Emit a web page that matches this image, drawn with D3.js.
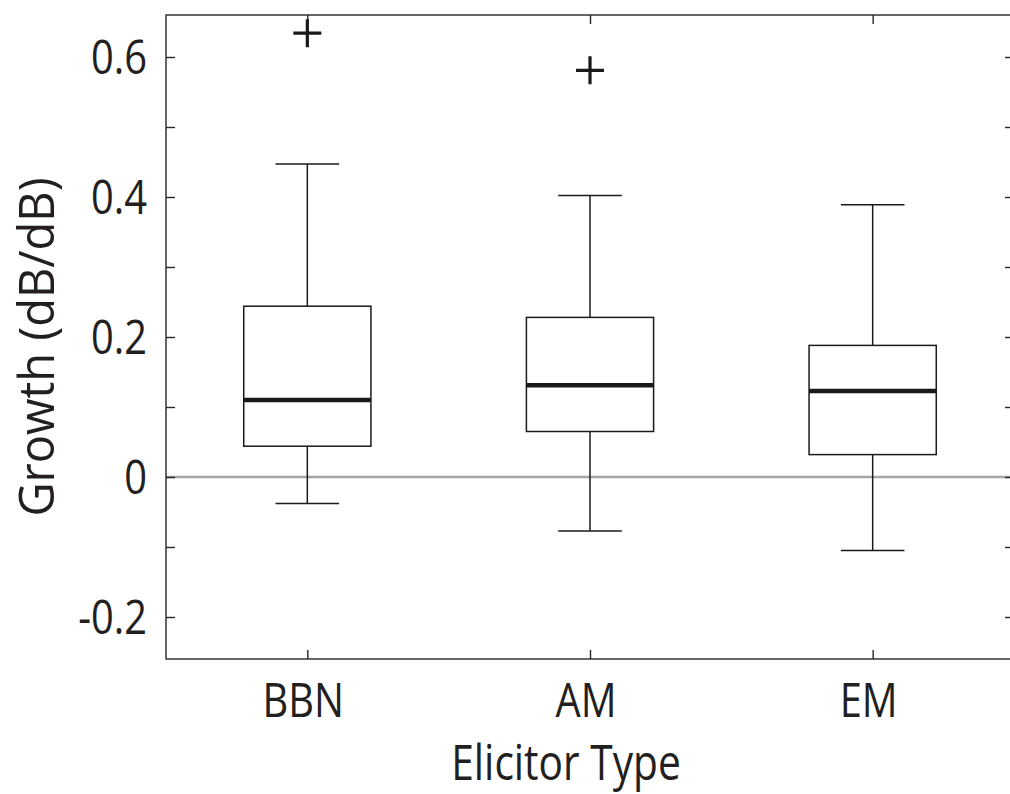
<!DOCTYPE html>
<html>
<head>
<meta charset="utf-8">
<script src="https://cdn.jsdelivr.net/npm/d3@7"></script>
<style>
  html, body { margin: 0; padding: 0; background: #fff; }
  svg { display: block; }
  text { font-family: "Open Sans", sans-serif; fill: #231f20; }
</style>
</head>
<body>
<svg id="chart"></svg>
<script>
const width = 1010;
const height = 794;
const plot = { left: 166, right: 1014, top: 15, bottom: 659 };

// box statistics
const categories = ["BBN", "AM", "EM"];
const upperWhisker = [0.447, 0.402, 0.389];
const q3 = [0.244, 0.228, 0.188];
const medians = [0.110, 0.131, 0.123];
const q1 = [0.044, 0.065, 0.032];
const lowerWhisker = [-0.038, -0.077, -0.105];
const outlierCats = ["BBN", "AM"];
const outlierValues = [0.634, 0.581];

const yTicks = [-0.2, -0.1, 0, 0.1, 0.2, 0.3, 0.4, 0.5, 0.6];
const yTickLabels = ["-0.2", "0", "0.2", "0.4", "0.6"];
const yLabelValues = [-0.2, 0, 0.2, 0.4, 0.6];

const axisColor = "#262626";

let svg = d3.select("#chart")
            .attr("width", width)
            .attr("height", height);

let x = d3.scalePoint()
          .domain(categories)
          .range([plot.left, plot.right])
          .padding(0.5);

let y = d3.scaleLinear()
          .domain([-0.26, 0.66])
          .range([plot.bottom, plot.top]);

const boxW = x.step() * 0.45;
const capW = boxW / 2;

// zero reference line
svg.append("line")
   .attr("x1", plot.left).attr("x2", plot.right)
   .attr("y1", y(0)).attr("y2", y(0))
   .attr("stroke", "#a6a6a6")
   .attr("stroke-width", 2.6);

// axes (ticks point inward, box all around)
const tickLen = 9;
let axes = svg.append("g")
   .attr("fill", "none")
   .attr("stroke", axisColor)
   .attr("stroke-width", 1.4);

let leftAxis = d3.axisLeft(y).tickValues(yTicks).tickSize(-tickLen).tickSizeOuter(0).tickFormat("");
let rightAxis = d3.axisRight(y).tickValues(yTicks).tickSize(-tickLen).tickSizeOuter(0).tickFormat("");
let bottomAxis = d3.axisBottom(x).tickSize(-tickLen).tickSizeOuter(0).tickFormat("");
let topAxis = d3.axisTop(x).tickSize(-tickLen).tickSizeOuter(0).tickFormat("");

[
  [leftAxis, `translate(${plot.left},0)`],
  [rightAxis, `translate(${plot.right},0)`],
  [bottomAxis, `translate(0,${plot.bottom})`],
  [topAxis, `translate(0,${plot.top})`]
].forEach(([ax, tr]) => {
  let g = svg.append("g").attr("transform", tr).call(ax);
  g.selectAll("path, line").attr("stroke", axisColor).attr("stroke-width", 1.4);
  g.select(".domain").attr("d", null);
});

axes.append("rect")
    .attr("x", plot.left).attr("y", plot.top)
    .attr("width", plot.right - plot.left)
    .attr("height", plot.bottom - plot.top);

// boxes
let boxes = svg.append("g")
  .selectAll("g")
  .data(categories)
  .enter()
  .append("g");

// whiskers
boxes.append("line")
  .attr("x1", d => x(d)).attr("x2", d => x(d))
  .attr("y1", (d, i) => y(upperWhisker[i])).attr("y2", (d, i) => y(q3[i]))
  .attr("stroke", "#1a1a1a").attr("stroke-width", 1.5);
boxes.append("line")
  .attr("x1", d => x(d)).attr("x2", d => x(d))
  .attr("y1", (d, i) => y(q1[i])).attr("y2", (d, i) => y(lowerWhisker[i]))
  .attr("stroke", "#1a1a1a").attr("stroke-width", 1.5);
// caps
boxes.append("line")
  .attr("x1", d => x(d) - capW / 2).attr("x2", d => x(d) + capW / 2)
  .attr("y1", (d, i) => y(upperWhisker[i])).attr("y2", (d, i) => y(upperWhisker[i]))
  .attr("stroke", "#1a1a1a").attr("stroke-width", 1.5);
boxes.append("line")
  .attr("x1", d => x(d) - capW / 2).attr("x2", d => x(d) + capW / 2)
  .attr("y1", (d, i) => y(lowerWhisker[i])).attr("y2", (d, i) => y(lowerWhisker[i]))
  .attr("stroke", "#1a1a1a").attr("stroke-width", 1.5);
// box
boxes.append("rect")
  .attr("x", d => x(d) - boxW / 2)
  .attr("y", (d, i) => y(q3[i]))
  .attr("width", boxW)
  .attr("height", (d, i) => y(q1[i]) - y(q3[i]))
  .attr("fill", "#fff")
  .attr("stroke", "#1a1a1a")
  .attr("stroke-width", 1.5);
// median
boxes.append("line")
  .attr("x1", d => x(d) - boxW / 2).attr("x2", d => x(d) + boxW / 2)
  .attr("y1", (d, i) => y(medians[i])).attr("y2", (d, i) => y(medians[i]))
  .attr("stroke", "#1a1a1a").attr("stroke-width", 4.5);

// outliers as plus markers
const plusHalf = 14;
let plus = svg.append("g")
  .selectAll("path")
  .data(outlierCats)
  .enter()
  .append("path")
  .attr("d", (d, i) => {
    let cx = x(d), cy = y(outlierValues[i]);
    return `M${cx - plusHalf},${cy}H${cx + plusHalf}M${cx},${cy - plusHalf}V${cy + plusHalf}`;
  })
  .attr("stroke", "#1a1a1a")
  .attr("stroke-width", 3.2)
  .attr("fill", "none");

// tick labels
svg.append("g")
  .selectAll("g")
  .data(yLabelValues)
  .enter()
  .append("g")
  .attr("transform", d => `translate(147,${y(d)}) scale(0.83,1)`)
  .append("text")
  .attr("text-anchor", "end")
  .attr("dy", "0.36em")
  .style("font-size", "48px")
  .text((d, i) => yTickLabels[i]);

svg.append("g")
  .selectAll("g")
  .data(categories)
  .enter()
  .append("g")
  .attr("transform", d => `translate(${x(d) - 4},717) scale(0.83,1)`)
  .append("text")
  .attr("text-anchor", "middle")
  .style("font-size", "48px")
  .text(d => d);

// axis titles
svg.append("g")
  .attr("transform", "translate(566,780) scale(0.83,1)")
  .append("text")
  .attr("text-anchor", "middle")
  .style("font-size", "49px")
  .text("Elicitor Type");

svg.append("g")
  .attr("transform", "translate(54,347) scale(1,0.96) rotate(-90)")
  .append("text")
  .attr("text-anchor", "middle")
  .style("font-size", "49px")
  .text("Growth (dB/dB)");
</script>
</body>
</html>
